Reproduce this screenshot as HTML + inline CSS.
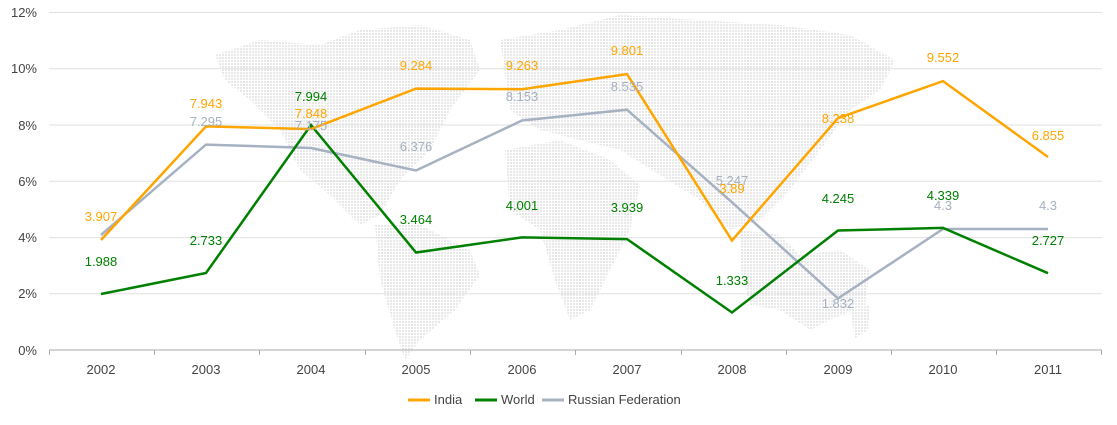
<!DOCTYPE html>
<html><head><meta charset="utf-8"><style>
body{margin:0;background:#fff;}
svg text{font-family:"Liberation Sans",sans-serif;}
</style></head><body>
<svg width="1117" height="420" xmlns="http://www.w3.org/2000/svg">
<defs>
<pattern id="d" width="3" height="3" patternUnits="userSpaceOnUse"><rect width="2" height="2" fill="#e8e8e8"/></pattern>
</defs>
<g fill="url(#d)">
<path d="M215,55 L260,40 L320,45 L360,30 L420,25 L470,40 L480,70 L450,110 L430,150 L400,180 L380,215 L360,225 L330,195 L300,170 L280,130 L250,100 L225,80Z"/>
<path d="M375,225 L420,225 L470,250 L480,275 L455,310 L420,340 L405,360 L395,330 L380,280Z"/>
<path d="M500,40 L560,30 L620,15 L700,20 L780,25 L850,35 L895,60 L880,90 L850,110 L820,150 L790,190 L760,220 L730,230 L700,200 L660,175 L620,150 L580,140 L540,130 L510,110Z"/>
<path d="M505,150 L560,140 L610,160 L640,185 L630,230 L610,270 L590,310 L570,320 L555,280 L540,230 L510,210Z"/>
<path d="M740,230 L780,235 L800,255 L840,250 L870,270 L865,305 L830,320 L810,330 L780,310 L750,305 L740,270Z"/>
<path d="M850,310 L870,305 L868,330 L855,338Z"/>
</g>
<g stroke="#e0e0e0" stroke-width="1">
<line x1="49" x2="1102" y1="12.5" y2="12.5"/><line x1="49" x2="1102" y1="68.8" y2="68.8"/><line x1="49" x2="1102" y1="125" y2="125"/><line x1="49" x2="1102" y1="181.3" y2="181.3"/><line x1="49" x2="1102" y1="237.6" y2="237.6"/><line x1="49" x2="1102" y1="293.8" y2="293.8"/>
</g>
<line x1="49" x2="1102" y1="350" y2="350" stroke="#aaa" stroke-width="1"/>
<g stroke="#aaa">
<line x1="49.5" x2="49.5" y1="350" y2="355"/><line x1="154.5" x2="154.5" y1="350" y2="355"/><line x1="259.5" x2="259.5" y1="350" y2="355"/><line x1="365.5" x2="365.5" y1="350" y2="355"/><line x1="470.5" x2="470.5" y1="350" y2="355"/><line x1="575.5" x2="575.5" y1="350" y2="355"/><line x1="681.5" x2="681.5" y1="350" y2="355"/><line x1="786.5" x2="786.5" y1="350" y2="355"/><line x1="891.5" x2="891.5" y1="350" y2="355"/><line x1="996.5" x2="996.5" y1="350" y2="355"/><line x1="1101.5" x2="1101.5" y1="350" y2="355"/>
</g>
<g font-size="13" fill="#444" text-anchor="end">
<text x="37" y="17">12%</text><text x="37" y="73">10%</text><text x="37" y="130">8%</text><text x="37" y="186">6%</text><text x="37" y="242">4%</text><text x="37" y="298">2%</text><text x="37" y="355">0%</text>
</g>
<g font-size="13" fill="#444" text-anchor="middle">
<text x="101" y="374">2002</text><text x="206" y="374">2003</text><text x="311" y="374">2004</text><text x="416" y="374">2005</text><text x="522" y="374">2006</text><text x="627" y="374">2007</text><text x="732" y="374">2008</text><text x="838" y="374">2009</text><text x="943" y="374">2010</text><text x="1048" y="374">2011</text>
</g>
<polyline fill="none" stroke="#a6b1c1" stroke-width="2.5" points="101,235 206,144.6 311,148 416,170.5 522,120.5 627,109.7 732,202.3 838,298.4 943,229 1048,229"/>
<polyline fill="none" stroke="#008000" stroke-width="2.5" points="101,294 206,273 311,125 416,252.5 522,237.4 627,239.1 732,312.5 838,230.5 943,227.9 1048,273.2"/>
<polyline fill="none" stroke="#ffa500" stroke-width="2.5" points="101,240 206,126.4 311,129.1 416,88.6 522,89.2 627,74.1 732,240.5 838,118.1 943,81.1 1048,157"/>
<g font-size="13" text-anchor="middle">
<g fill="#a6b1c1"><text x="206" y="126">7.295</text><text x="311" y="130">7.175</text><text x="416" y="151">6.376</text><text x="522" y="101">8.153</text><text x="627" y="91">8.535</text><text x="732" y="185">5.247</text><text x="838" y="308">1.832</text><text x="943" y="210">4.3</text><text x="1048" y="210">4.3</text></g>
<g fill="#008000"><text x="101" y="266">1.988</text><text x="206" y="245">2.733</text><text x="311" y="101">7.994</text><text x="416" y="224">3.464</text><text x="522" y="210">4.001</text><text x="627" y="212">3.939</text><text x="732" y="285">1.333</text><text x="838" y="203">4.245</text><text x="943" y="200">4.339</text><text x="1048" y="245">2.727</text></g>
<g fill="#ffa500"><text x="101" y="221">3.907</text><text x="206" y="108">7.943</text><text x="311" y="118">7.848</text><text x="416" y="70">9.284</text><text x="522" y="70">9.263</text><text x="627" y="55">9.801</text><text x="732" y="193">3.89</text><text x="838" y="123">8.238</text><text x="943" y="62">9.552</text><text x="1048" y="140">6.855</text></g>
</g>
<g font-size="13" fill="#444">
<line x1="408" x2="430" y1="400" y2="400" stroke="#ffa500" stroke-width="3"/><text x="434" y="404">India</text>
<line x1="475" x2="497" y1="400" y2="400" stroke="#008000" stroke-width="3"/><text x="501" y="404">World</text>
<line x1="542" x2="564" y1="400" y2="400" stroke="#a6b1c1" stroke-width="3"/><text x="568" y="404">Russian Federation</text>
</g>
</svg>
</body></html>
